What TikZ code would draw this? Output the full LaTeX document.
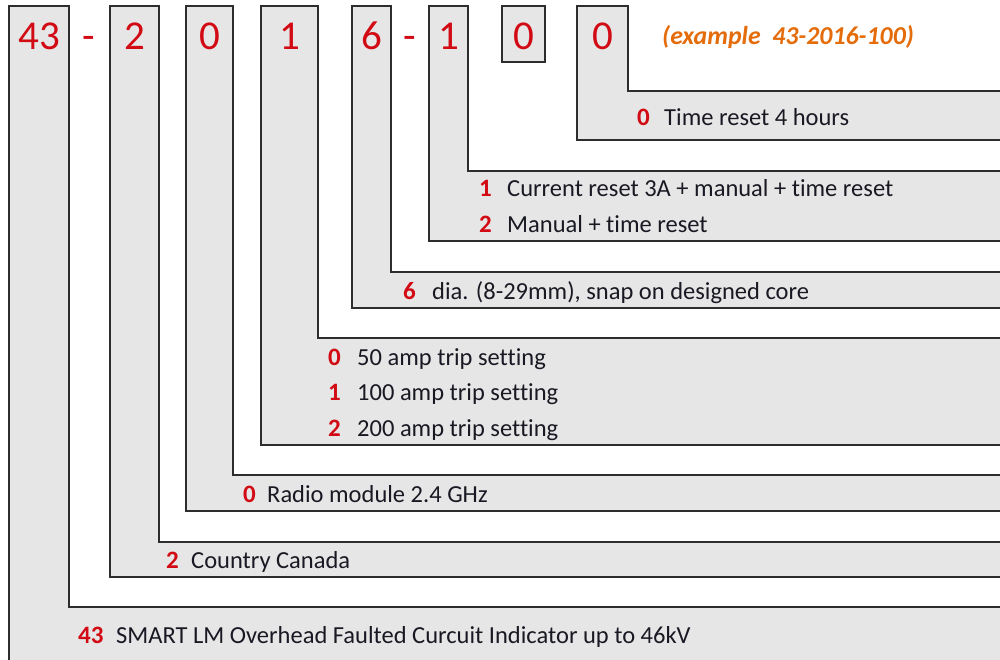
\documentclass[tikz,border=0pt]{standalone}
\usepackage{fontspec}
\setmainfont{Carlito}[Ligatures=NoCommon]
\definecolor{boxfill}{RGB}{230,230,230}
\definecolor{boxline}{RGB}{45,45,45}
\definecolor{digred}{RGB}{210,10,20}
\definecolor{exorange}{RGB}{228,108,10}
\definecolor{txt}{RGB}{25,25,35}
\begin{document}
\begin{tikzpicture}[x=1pt,y=-1pt,
  lbox/.style={fill=boxfill,draw=boxline,line width=1.4pt,line join=miter},
  topdig/.style={text=digred,font=\fontsize{41}{41}\selectfont,inner sep=0pt,anchor=base},
  code/.style={text=digred,font=\fontsize{25}{25}\selectfont\bfseries,anchor=base west,inner sep=0pt},
  desc/.style={text=txt,font=\fontsize{24.5}{24.5}\selectfont,anchor=base west,inner sep=0pt}]
\clip (0,0) rectangle (1000,659);
\useasboundingbox (0,0) rectangle (1000,659);
% L-shaped boxes, outermost first
\draw[lbox] (9,6) -- (69,6) -- (69,607) -- (1010,607) -- (1010,670) -- (9,670) -- cycle;
\draw[lbox] (110,6) -- (159,6) -- (159,542) -- (1010,542) -- (1010,577) -- (110,577) -- cycle;
\draw[lbox] (186,6) -- (233,6) -- (233,475) -- (1010,475) -- (1010,511) -- (186,511) -- cycle;
\draw[lbox] (261,6) -- (318,6) -- (318,338) -- (1010,338) -- (1010,445) -- (261,445) -- cycle;
\draw[lbox] (352,6) -- (391,6) -- (391,272) -- (1010,272) -- (1010,308) -- (352,308) -- cycle;
\draw[lbox] (429,6) -- (468,6) -- (468,171) -- (1010,171) -- (1010,241) -- (429,241) -- cycle;
\draw[lbox] (502,6) rectangle (545,62);
\draw[lbox] (577,6) -- (628,6) -- (628,91) -- (1010,91) -- (1010,140) -- (577,140) -- cycle;
% top digits
\node[topdig] (d43) at (39,49) {43};
\node[topdig] (dash1) at (89,49) {-};
\node[topdig] (d2) at (134.5,49) {2};
\node[topdig] (d0a) at (209.5,49) {0};
\node[topdig] (d1a) at (289.5,49) {1};
\node[topdig] (d6) at (371.5,49) {6};
\node[topdig] (dash2) at (410,49) {-};
\node[topdig] (d1b) at (448.5,49) {1};
\node[topdig] (d0b) at (523.5,49) {0};
\node[topdig] (d0c) at (602.5,49) {0};
\node[text=exorange,font=\fontsize{25.8}{25.8}\selectfont\bfseries\itshape,anchor=base west,inner sep=0pt] (ex) at (662,44) {(example\ \ 43-2016-100)};
% descriptions
\node[code] (c0t) at (637,125) {0};
\node[desc] (t0t) at (664,125) {Time reset 4 hours};
\node[code] (c1r) at (479,196) {1};
\node[desc] (t1r) at (507,196) {Current reset 3A + manual + time reset};
\node[code] (c2r) at (479,232) {2};
\node[desc] (t2r) at (507,232) {Manual + time reset};
\node[code] (c6) at (403,299) {6};
\node[desc] (t6) at (432,299) {dia. (8-29mm), snap on designed core};
\node[code] (c0a) at (328,365) {0};
\node[desc] (t0a) at (357,365) {50 amp trip setting};
\node[code] (c1a) at (328,400) {1};
\node[desc] (t1a) at (357,400) {100 amp trip setting};
\node[code] (c2a) at (328,436) {2};
\node[desc] (t2a) at (357,436) {200 amp trip setting};
\node[code] (c0r) at (243,502) {0};
\node[desc] (t0r) at (267,502) {Radio module 2.4 GHz};
\node[code] (c2c) at (166,568) {2};
\node[desc] (t2c) at (191,568) {Country Canada};
\node[code] (c43) at (78,643) {43};
\node[desc] (t43) at (116,643) {SMART LM Overhead Faulted Curcuit Indicator up to 46kV};
\end{tikzpicture}
\end{document}
